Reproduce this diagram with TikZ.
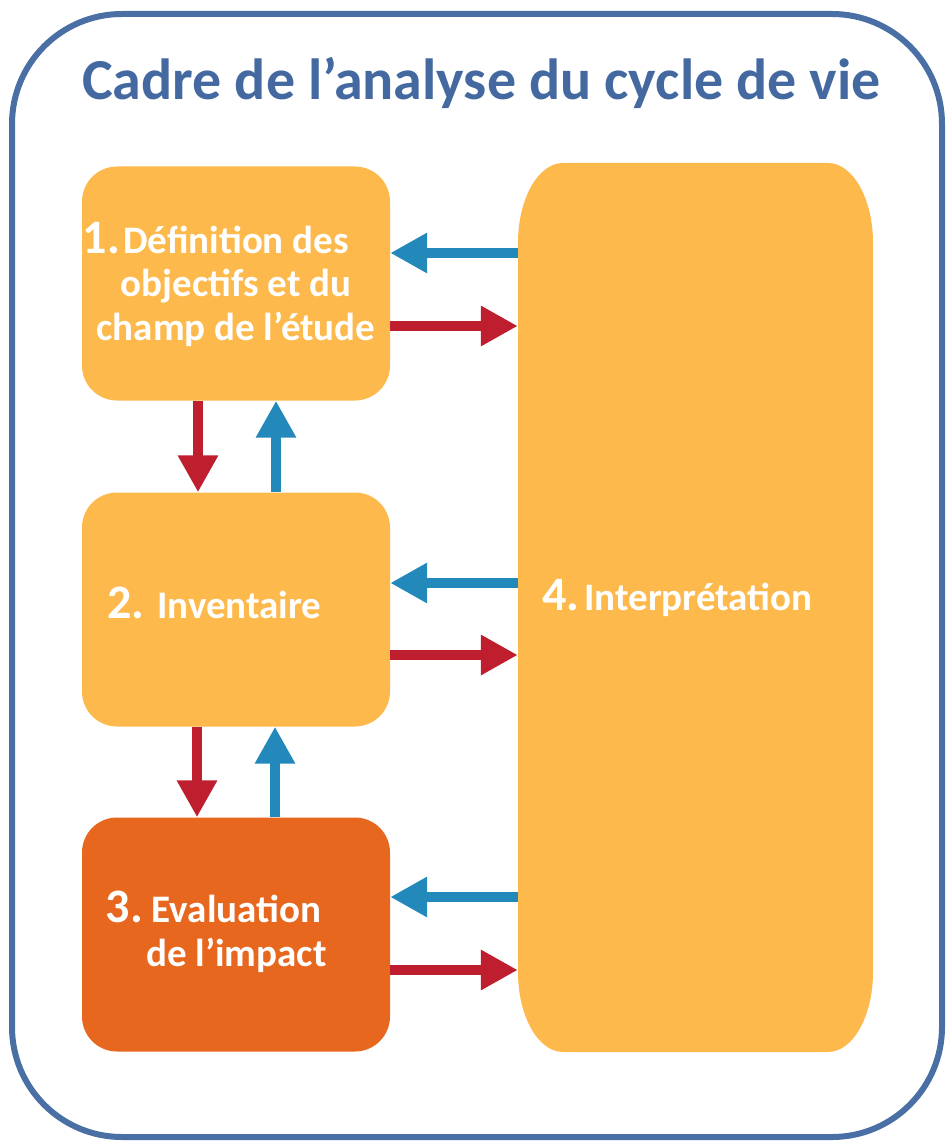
\documentclass[tikz,border=0pt]{standalone}
\usepackage{fontspec}
\setmainfont{Carlito}
\usetikzlibrary{arrows.meta}
\definecolor{frameblue}{HTML}{4A6FA5}
\definecolor{titleblue}{HTML}{4369A0}
\definecolor{boxyellow}{HTML}{FDB94B}
\definecolor{boxorange}{HTML}{E8671F}
\definecolor{arrred}{HTML}{BE1E2D}
\definecolor{arrblue}{HTML}{2389BB}
\newcommand{\numfont}{\bfseries\fontsize{48}{48}\selectfont}
\begin{document}
\begin{tikzpicture}[x=1pt,y=-1pt,
  stepbox/.style={fill=boxyellow, rounded corners=35pt, minimum width=308pt, minimum height=234pt, inner sep=0pt},
  boxtext/.style={text=white, font=\bfseries\fontsize{39}{43.5}\selectfont, align=center, inner sep=0pt},
  redarr/.style={draw=arrred, line width=10pt, -{Triangle[length=37pt,width=38pt]}},
  bluearr/.style={draw=arrblue, line width=10pt, -{Triangle[length=37pt,width=38pt]}}]
\useasboundingbox (0,0) rectangle (945,1142);
% outer frame
\draw[frameblue, line width=6pt, rounded corners=110pt] (12,14) rectangle (942,1137);
\node[font=\bfseries\fontsize{58}{66}\selectfont, text=titleblue, anchor=base, inner sep=0pt] (title) at (481.5,100) {Cadre de l’analyse du cycle de vie};
% boxes
\node[stepbox] (box1) at (236,283.5) {};
\node[stepbox] (box2) at (236,609.5) {};
\node[stepbox, fill=boxorange] (box3) at (236,934.5) {};
\node[minimum width=355pt, minimum height=889pt, inner sep=0pt] (box4) at (695.5,607.5) {};
\fill[boxyellow] (518,243) .. controls (518,198.8) and (538.1,163) .. (563,163) -- (828,163)
  .. controls (852.9,163) and (873,198.8) .. (873,243) -- (873,972)
  .. controls (873,1016.2) and (852.9,1052) .. (828,1052) -- (563,1052)
  .. controls (538.1,1052) and (518,1016.2) .. (518,972) -- cycle;
% texts
\node[boxtext, anchor=base] (t1) at (236,340) {\llap{\numfont 1.\kern3pt}Définition des\\objectifs et du\\champ de l’étude};
\node[boxtext, anchor=base west] (t2) at (107,618) {{\numfont 2.}\kern13pt Inventaire};
\node[boxtext, anchor=base] (t3) at (236.5,966) {\llap{\numfont 3.\kern9pt}Evaluation\\de l’impact};
\node[boxtext, anchor=base west] (t4) at (542,610) {{\numfont 4.}\kern5pt Interprétation};
% horizontal arrows
\draw[bluearr] (box4.west |- 0,253) -- (box1.east |- 0,253);
\draw[redarr] (box1.east |- 0,326) -- (box4.west |- 0,326);
\draw[bluearr] (box4.west |- 0,583) -- (box2.east |- 0,583);
\draw[redarr] (box2.east |- 0,655) -- (box4.west |- 0,655);
\draw[bluearr] (box4.west |- 0,897) -- (box3.east |- 0,897);
\draw[redarr] (box3.east |- 0,970) -- (box4.west |- 0,970);
% vertical arrows
\draw[redarr] (box1.south -| 198,0) -- (box2.north -| 198,0);
\draw[bluearr] (box2.north -| 276,0) -- (box1.south -| 276,0);
\draw[redarr] (box2.south -| 197,0) -- (box3.north -| 197,0);
\draw[bluearr] (box3.north -| 275,0) -- (box2.south -| 275,0);
\end{tikzpicture}
\end{document}
